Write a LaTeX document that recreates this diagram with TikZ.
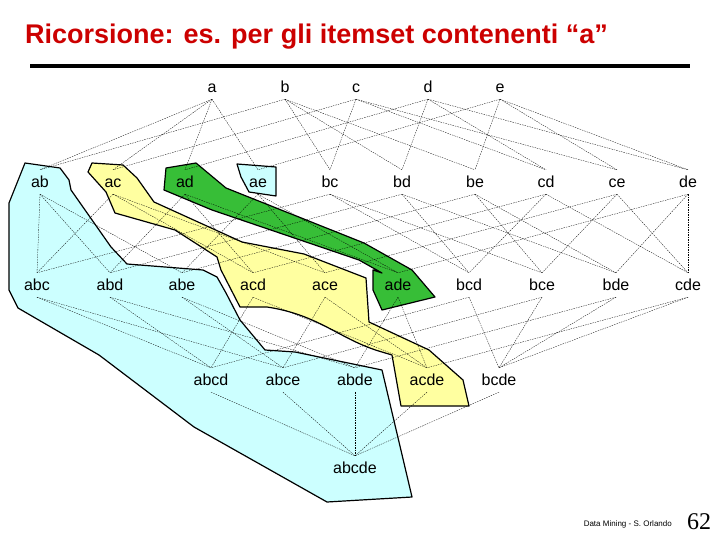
\documentclass[tikz,border=0pt]{standalone}
\usepackage{fontspec}
\setmainfont{Liberation Sans}
\newfontfamily\serifnum{Liberation Serif}
\definecolor{blobcyan}{RGB}{204,255,255}
\definecolor{blobyellow}{RGB}{255,255,160}
\definecolor{blobgreen}{RGB}{55,190,55}
\definecolor{titlered}{RGB}{204,0,0}
\begin{document}
\begin{tikzpicture}[x=1pt,y=-1pt,
  lbl/.style={font=\fontsize{16}{16}\selectfont, text height=11.5pt, text depth=0.5pt, inner ysep=6pt, inner xsep=0pt},
  edge/.style={line width=0.3pt, dash pattern=on 1.5pt off 1pt},
  blob/.style={draw=black, line width=1.2pt, line join=round}]
\useasboundingbox (0,0) rectangle (720,540);
\node[anchor=west, font=\bfseries\fontsize{27}{27}\selectfont, text=titlered, inner sep=0pt] (title) at (25,37) {Ricorsione: es. per gli itemset contenenti “a”};
\draw[line width=4pt] (30,66) -- (690,66);
% blobs
\fill[blobcyan] (25,163) -- (60,168) -- (69,180) -- (71,190) -- (111,247) -- (127,264) -- (203,270) -- (217,277) -- (226,293) -- (240,320) -- (265,350) -- (295,352) -- (382,370) -- (412,497) -- (327,502) -- (194,427) -- (99,355) -- (18,308) -- (9,290) -- (9,203) -- cycle;
\draw[blob] (25,163) -- (60,168) -- (69,180) -- (71,190) -- (111,247) -- (127,264) -- (203,270) -- (217,277) -- (226,293) -- (240,320) -- (265,350) -- (295,352) -- (382,370) -- (412,497) -- (327,502) -- (194,427) -- (99,355) -- (18,308) -- (9,290) -- (9,203) -- cycle;
\draw[blob, fill=blobcyan] (237,164) -- (276,167) -- (276,196) -- (249,192) -- (241,177) -- cycle;
\draw[blob, fill=blobyellow] (92,163) -- (123,165) -- (137,178) -- (154,202) -- (242,242) -- (304,254) -- (366,278) -- (369,322) -- (429,350) -- (463,380) -- (469,406) -- (401,406) -- (392,355) -- (382,352) .. controls (340,340) and (320,315) .. (267,307) -- (240,307) -- (221,270) -- (217,257) -- (175,230) -- (115,213) -- (106,192) -- (88,172) -- cycle;
\draw[blob, fill=blobgreen] (166,168) -- (196,163) -- (226,188) -- (364,243) -- (412,270) -- (435,297) -- (382,310) -- (373,290) -- (373,270) -- (382,273) -- (359,260) -- (212,210) -- (164,190) -- cycle;
% nodes
\foreach \n/\x in {a/212,b/285,c/356,d/428,e/500}
  \node[lbl] (\n) at (\x,87) {\n};
\foreach \n/\x in {ab/40,ac/113,ad/185,ae/258,bc/330,bd/402,be/475,cd/546,ce/617,de/688}
  \node[lbl] (\n) at (\x,182) {\n};
\foreach \n/\x in {abc/37,abd/110,abe/182,acd/253,ace/325,ade/398,bcd/469,bce/542,bde/616,cde/688}
  \node[lbl] (\n) at (\x,285) {\n};
\foreach \n/\x in {abcd/211,abce/283,abde/355,acde/427,bcde/499}
  \node[lbl] (\n) at (\x,380) {\n};
\node[lbl] (abcde) at (355,468) {abcde};
% edges
\foreach \c/\ps in {ab/{a,b}, ac/{a,c}, ad/{a,d}, ae/{a,e}, bc/{b,c}, bd/{b,d}, be/{b,e}, cd/{c,d}, ce/{c,e}, de/{d,e},
  abc/{ab,ac,bc}, abd/{ab,ad,bd}, abe/{ab,ae,be}, acd/{ac,ad,cd}, ace/{ac,ae,ce}, ade/{ad,ae,de}, bcd/{bc,bd,cd}, bce/{bc,be,ce}, bde/{bd,be,de}, cde/{cd,ce,de},
  abcd/{abc,abd,acd,bcd}, abce/{abc,abe,ace,bce}, abde/{abd,abe,ade,bde}, acde/{acd,ace,ade,cde}, bcde/{bcd,bce,bde,cde},
  abcde/{abcd,abce,abde,acde,bcde}}
  \foreach \p in \ps
    \draw[edge] (\p.south) -- (\c.north);
\node[anchor=east, font=\fontsize{8}{8}\selectfont, inner sep=0pt] (foot) at (672,524) {Data Mining - S. Orlando};
\node[anchor=west, font=\serifnum\fontsize{24}{24}\selectfont, inner sep=0pt] (page) at (687,522) {62};
\end{tikzpicture}
\end{document}
